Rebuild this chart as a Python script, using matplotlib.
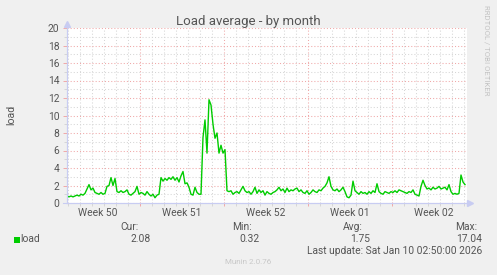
import numpy as np
import matplotlib
matplotlib.use('Agg')
import matplotlib.pyplot as plt
from matplotlib.ticker import MultipleLocator
from matplotlib.patches import Rectangle
from matplotlib.lines import Line2D

plt.rcParams['font.family'] = ['Roboto', 'DejaVu Sans']

# ---- data ----
start_hour = -650          # hours relative to Mon Jan 5 2026 00:00 (start of Week 02)
step_hour = 4
load = [
    0.8, 0.7, 0.8, 0.7, 0.8, 0.9, 0.8,
    1.0, 0.9, 1.1, 1.6,
    2.1, 1.5, 1.7, 1.2,
    1.1, 1.0, 1.2, 1.0, 1.1,
    1.9, 2.0, 2.9, 2.0, 2.8,
    1.3, 1.2, 1.4, 1.2, 1.3, 1.5, 1.0,
    0.9, 1.1, 1.3, 1.9, 1.0,
    1.2, 1.1, 0.9, 1.3, 1.0,
    0.8, 1.0, 0.6, 0.9, 1.0,
    2.9, 2.5, 2.8, 2.6, 2.9, 2.7, 3.0, 2.6, 2.9, 2.4, 3.1,
    3.6, 2.2, 2.3, 1.8, 1.0,
    0.9, 1.8, 1.2, 1.0, 1.0,
    7.5, 9.5, 5.7, 11.8, 11.2, 9.0, 7.4, 8.0, 5.7, 6.6, 5.7, 6.1,
    1.4,
    1.3, 1.4, 1.0, 1.2, 1.3, 1.1, 1.5,
    1.9, 1.4, 1.2, 1.3,
    1.0, 1.3, 1.8, 1.1, 1.5,
    1.2, 1.4, 0.9, 1.3, 1.1, 1.0, 1.2, 1.3, 1.5, 1.8,
    1.4, 1.6, 1.2, 1.7, 1.3, 1.5, 1.4, 1.6, 1.7, 1.3,
    1.5, 1.2, 1.1, 1.4, 1.0, 1.2, 1.5, 1.3,
    1.2, 1.5, 1.4, 1.7, 1.9, 2.3,
    3.0,
    1.9, 1.5, 1.4, 1.6, 1.3, 1.5, 1.8, 1.3,
    0.7, 0.6, 0.9,
    2.5,
    1.4, 1.2, 1.0, 1.3, 1.1, 1.2, 1.0, 1.3, 1.1, 1.4, 1.2,
    2.2,
    1.3, 1.1, 1.0, 1.3, 1.2, 1.1, 1.3, 1.2, 1.4, 1.2, 1.5,
    1.4, 1.3, 1.2, 1.1, 1.3, 1.2, 1.5, 1.0, 0.9, 0.8,
    1.9, 2.6, 2.0, 1.6, 1.7, 1.5, 1.8, 1.6, 1.7, 1.9, 1.6, 1.7, 1.8, 1.5, 2.1, 1.3,
    1.0, 1.1, 1.0, 1.1,
    3.2, 2.4, 2.1,
]
hours = start_hour + step_hour * np.arange(len(load))

week_labels = ['Week 50', 'Week 51', 'Week 52', 'Week 01', 'Week 02']
week_starts = [-672, -504, -336, -168, 0]
x_range = (-650, 150)
y_ticks = list(range(0, 21, 2))
stat_names = ['Cur:', 'Min:', 'Avg:', 'Max:']
stat_values = ['2.08', '0.32', '1.75', '17.04']
series_name = 'load'
last_update = 'Last update: Sat Jan 10 02:50:00 2026'

# ---- figure ----
W, H = 497, 275
BG = '#F0F0F0'
TXT = '#555555'
AXC = '#C8CCF2'
MAJ = '#F0A8A8'
MIN = '#D6D6D6'
fig = plt.figure(figsize=(W / 100, H / 100), dpi=100, facecolor=BG)

def fx(x):
    return x / W

def fy(y):
    return 1 - y / H

ax = fig.add_axes([fx(67), fy(203), 400 / W, 175 / H])
ax.set_facecolor('white')
ax.set_xlim(*x_range)
ax.set_ylim(0, 20)

ax.xaxis.set_major_locator(MultipleLocator(168))
ax.xaxis.set_minor_locator(MultipleLocator(24))
ax.set_yticks(y_ticks)
ax.yaxis.set_minor_locator(MultipleLocator(1))

ax.grid(which='major', color=MAJ, linestyle=(0, (1, 2)), lw=0.75)
ax.grid(which='minor', color=MIN, linestyle=(0, (1, 2)), lw=0.75)
ax.set_axisbelow(True)

ax.tick_params(axis='x', which='both', labelbottom=False, length=2, width=0.7)
ax.tick_params(axis='x', which='major', colors=MAJ)
ax.tick_params(axis='x', which='minor', colors=MIN)
ax.tick_params(axis='y', which='major', length=3, width=0.7, color=MAJ,
               pad=2.5, labelsize=7.4, labelcolor=TXT)
ax.tick_params(axis='y', which='minor', length=2, width=0.7, color=MIN)

for s in ['top', 'right']:
    ax.spines[s].set_visible(False)
for s in ['left', 'bottom']:
    ax.spines[s].set_color(AXC)
    ax.spines[s].set_linewidth(0.8)

ax.plot(hours, load, color='#00CC00', lw=1.0, zorder=3)

# week labels centred mid-week
for lab, ws in zip(week_labels, week_starts):
    ax.text(ws + 84, -10 / 175, lab, transform=ax.get_xaxis_transform(),
            ha='center', va='center', fontsize=7.4, color=TXT)

# axis extensions + arrows
fig.add_artist(Line2D([fx(67), fx(67)], [fy(203), fy(25)], color=AXC, lw=0.8))
fig.add_artist(Line2D([fx(63), fx(469)], [fy(203), fy(203)], color=AXC, lw=0.8))
fig.add_artist(Line2D([fx(67)], [fy(23.5)], marker='^', ms=4, color=AXC, lw=0))
fig.add_artist(Line2D([fx(470)], [fy(203)], marker='>', ms=4, color=AXC, lw=0))

# title / labels
fig.text(fx(248), fy(21), 'Load average - by month', ha='center', va='center',
         fontsize=9.5, color=TXT)
fig.text(fx(11), fy(115), 'load', ha='center', va='center', rotation=90,
         fontsize=7.6, color=TXT)
fig.text(fx(487), fy(50), 'RRDTOOL / TOBI OETIKER', ha='center', va='center',
         rotation=270, fontsize=5.6, color='#C4C4C4')

# legend
fig.add_artist(Rectangle((fx(14), fy(242.7)), 6 / W, 6 / H, transform=fig.transFigure,
                         color='#00CC00', lw=0))
fig.text(fx(20), fy(239.5), series_name, ha='left', va='center', fontsize=7.4, color=TXT)
label_right = [139, 252, 363, 477]
value_right = [151, 260, 370, 482]
for name, val, lr, vr in zip(stat_names, stat_values, label_right, value_right):
    fig.text(fx(lr), fy(227.5), name, ha='right', va='center', fontsize=7.4, color=TXT)
    fig.text(fx(vr), fy(239.5), val, ha='right', va='center', fontsize=7.4, color=TXT)
fig.text(fx(482), fy(251.5), last_update, ha='right', va='center', fontsize=7.4, color=TXT)
fig.text(fx(248), fy(262.5), 'Munin 2.0.76', ha='center', va='center', fontsize=5.8,
         color='#C8C8C8')

fig.savefig('out.png', dpi=100, facecolor=BG)
